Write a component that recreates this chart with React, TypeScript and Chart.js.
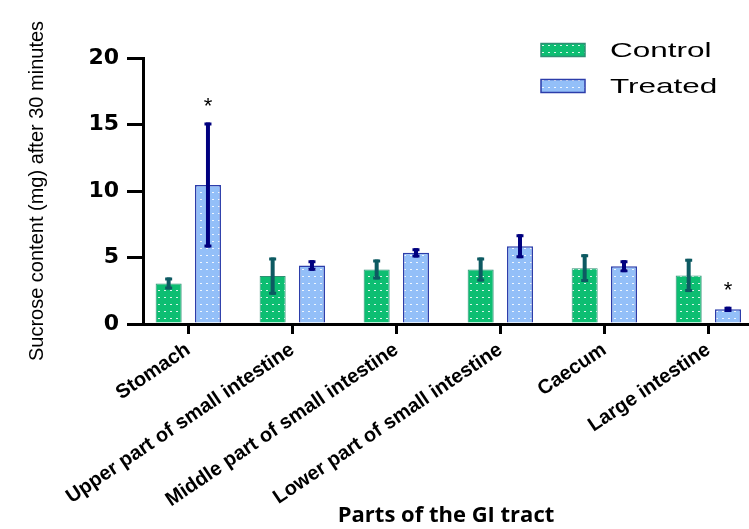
import React, { useEffect, useRef } from 'react';
import { Chart, registerables } from 'chart.js';

Chart.register(...registerables);

const categories = [
  'Stomach',
  'Upper part of small intestine',
  'Middle part of small intestine',
  'Lower part of small intestine',
  'Caecum',
  'Large intestine',
];
const controlMeans = [3.05, 3.6, 4.1, 4.1, 4.2, 3.65];
const controlErrors = [0.45, 1.4, 0.75, 0.9, 1.05, 1.25];
const treatedMeans = [10.45, 4.4, 5.35, 5.85, 4.35, 1.1];
const treatedErrors = [4.7, 0.4, 0.35, 0.9, 0.45, 0.2];
const controlMarks = ['', '', '', '', '', ''];
const treatedMarks = ['*', '', '', '', '', '*'];
const yTicks = [0, 5, 10, 15, 20];

function dotPattern(base: string) {
  const c = document.createElement('canvas');
  c.width = 6;
  c.height = 7;
  const g = c.getContext('2d')!;
  g.fillStyle = base;
  g.fillRect(0, 0, 6, 7);
  g.fillStyle = 'rgba(255,255,255,0.85)';
  g.fillRect(2, 3, 2, 1);
  return g.createPattern(c, 'repeat')!;
}

const errorBarPlugin = {
  id: 'errorBars',
  afterDatasetsDraw(chart: any) {
    const { ctx } = chart;
    const y = chart.scales.y;
    chart.data.datasets.forEach((ds: any, di: number) => {
      const meta = chart.getDatasetMeta(di);
      meta.data.forEach((bar: any, i: number) => {
        const v = ds.data[i].y;
        const e = ds.errors[i];
        const yTop = y.getPixelForValue(v + e);
        const yBot = y.getPixelForValue(v - e);
        ctx.save();
        ctx.strokeStyle = ds.errorColor;
        ctx.lineWidth = 4;
        ctx.beginPath();
        ctx.moveTo(bar.x, yTop);
        ctx.lineTo(bar.x, yBot);
        ctx.stroke();
        ctx.lineWidth = 3;
        ctx.beginPath();
        ctx.moveTo(bar.x - 3.5, yTop + 1.5);
        ctx.lineTo(bar.x + 3.5, yTop + 1.5);
        ctx.moveTo(bar.x - 3.5, yBot - 1.5);
        ctx.lineTo(bar.x + 3.5, yBot - 1.5);
        ctx.stroke();
        const mark = ds.marks[i];
        if (mark) {
          ctx.fillStyle = '#000';
          ctx.font = '22px "Liberation Sans", Arial, sans-serif';
          ctx.textAlign = 'center';
          ctx.textBaseline = 'middle';
          ctx.fillText(mark, bar.x, yTop - 16);
        }
        ctx.restore();
      });
    });
  },
};

const legendPlugin = {
  id: 'stretchedLegend',
  afterDraw(chart: any) {
    const { ctx } = chart;
    chart.data.datasets.forEach((ds: any, i: number) => {
      const cy = 50 + i * 36;
      ctx.save();
      ctx.fillStyle = ds.backgroundColor;
      ctx.fillRect(541, cy - 6.5, 44, 13);
      ctx.strokeStyle = ds.borderColor;
      ctx.lineWidth = 1.5;
      ctx.strokeRect(541, cy - 6.5, 44, 13);
      ctx.translate(610, cy + 1);
      ctx.scale(1.5, 1);
      ctx.font = '21px "Liberation Sans", Arial, sans-serif';
      ctx.fillStyle = '#000';
      ctx.textAlign = 'left';
      ctx.textBaseline = 'middle';
      ctx.fillText(ds.label, 0, 0);
      ctx.restore();
    });
  },
};

export default function App() {
  const ref = useRef<HTMLCanvasElement>(null);
  useEffect(() => {
    if (!ref.current) return;
    const chart = new Chart(ref.current, {
      type: 'bar',
      data: {
        datasets: [
          {
            label: 'Control',
            data: controlMeans.map((y, x) => ({ x, y })),
            backgroundColor: dotPattern('#0DBE72'),
            borderColor: '#2E8F74',
            borderWidth: 1,
            categoryPercentage: 0.756,
            barPercentage: 0.662,
            errors: controlErrors,
            errorColor: '#0D5A62',
            marks: controlMarks,
          } as any,
          {
            label: 'Treated',
            data: treatedMeans.map((y, x) => ({ x, y })),
            backgroundColor: dotPattern('#93BFF8'),
            borderColor: '#2C3DAA',
            borderWidth: 1.5,
            categoryPercentage: 0.756,
            barPercentage: 0.662,
            errors: treatedErrors,
            errorColor: '#00007F',
            marks: treatedMarks,
          } as any,
        ],
      },
      options: {
        responsive: true,
        maintainAspectRatio: false,
        animation: false,
        layout: { padding: { top: 58, right: 0, bottom: 0, left: 0 } },
        plugins: { legend: { display: false }, tooltip: { enabled: false } },
        scales: {
          x: {
            type: 'linear',
            min: -0.4356,
            max: 5.391,
            offset: false,
            bounds: 'data',
            z: 1,
            afterBuildTicks: (s: any) => {
              s.ticks = categories.map((_, i) => ({ value: i }));
            },
            afterFit: (s: any) => {
              s.height = 205;
            },
            ticks: {
              autoSkip: false,
              minRotation: 34,
              maxRotation: 34,
              padding: 4,
              color: '#000',
              font: { family: '"Liberation Sans", Arial, sans-serif', weight: 'bold', size: 20 },
              callback: (v: any) => categories[v],
            },
            grid: { offset: false, drawOnChartArea: false, drawTicks: true, tickLength: 10, lineWidth: 3, color: '#000' },
            border: { display: true, color: '#000', width: 3 },
            title: {
              display: true,
              text: 'Parts of the GI tract',
              color: '#000',
              font: { family: '"Open Sans", sans-serif', weight: 'bold', size: 22 },
              padding: { top: 0, bottom: 0 },
            },
          },
          y: {
            min: 0,
            max: 20,
            afterBuildTicks: (s: any) => {
              s.ticks = yTicks.map((v) => ({ value: v }));
            },
            afterFit: (s: any) => {
              s.width = 143;
            },
            ticks: {
              padding: 8,
              color: '#000',
              font: { family: '"DejaVu Sans", sans-serif', weight: 'bold', size: 22 },
            },
            grid: { drawOnChartArea: false, drawTicks: true, tickLength: 16, lineWidth: 3, color: '#000' },
            border: { display: true, color: '#000', width: 3 },
            title: {
              display: true,
              text: 'Sucrose content (mg) after 30 minutes',
              color: '#000',
              font: { family: '"Liberation Sans", Arial, sans-serif', size: 20 },
              padding: { top: 25, bottom: 0 },
            },
          },
        },
      } as any,
      plugins: [errorBarPlugin, legendPlugin],
    });
    return () => chart.destroy();
  }, []);
  return (
    <div style={{ position: 'fixed', left: 0, top: 0, width: 749, height: 529 }}>
      <canvas ref={ref} />
    </div>
  );
}
